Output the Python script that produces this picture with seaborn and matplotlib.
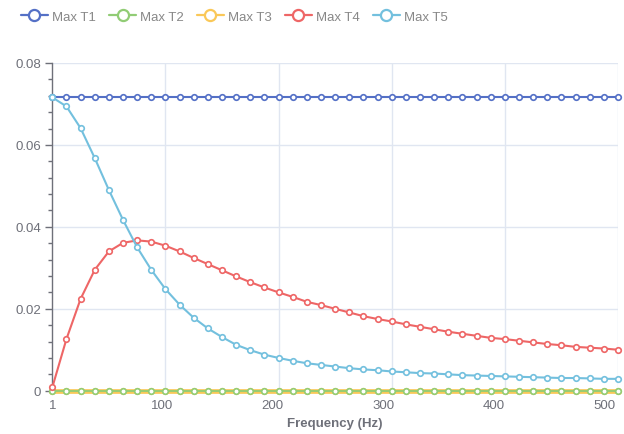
import numpy as np
import pandas as pd
import matplotlib
matplotlib.use("Agg")
import matplotlib.pyplot as plt
from matplotlib.ticker import FixedLocator, MultipleLocator
from matplotlib.lines import Line2D
import seaborn as sns

# ---- data ----
freqs = np.linspace(1, 512, 41)
series_names = ["Max T1", "Max T2", "Max T3", "Max T4", "Max T5"]
t1 = [0.0716] * 41
t2 = [0.0] * 41
t3 = [0.0] * 41
t4 = [0.0008, 0.0126, 0.0224, 0.0295, 0.0340, 0.0361, 0.0367, 0.0364, 0.0354, 0.0340,
      0.0324, 0.0309, 0.0294, 0.0279, 0.0265, 0.0252, 0.0240, 0.0229, 0.0217, 0.0209,
      0.0200, 0.0191, 0.0182, 0.0175, 0.0169, 0.0162, 0.0156, 0.0150, 0.0144, 0.0139,
      0.0134, 0.0129, 0.0126, 0.0122, 0.0118, 0.0114, 0.0111, 0.0107, 0.0105, 0.0103,
      0.0100]
t5 = [0.0716, 0.0694, 0.0641, 0.0568, 0.0490, 0.0417, 0.0350, 0.0295, 0.0248, 0.0210,
      0.0178, 0.0152, 0.0131, 0.0112, 0.0099, 0.0088, 0.0080, 0.0073, 0.0067, 0.0063,
      0.0059, 0.0055, 0.0052, 0.0050, 0.0047, 0.0045, 0.0043, 0.0042, 0.0040, 0.0038,
      0.0037, 0.0036, 0.0035, 0.0034, 0.0033, 0.0032, 0.0031, 0.0031, 0.0030, 0.0029,
      0.0029]
x_tick_values = [1, 100, 200, 300, 400, 500]
y_ticks = [0, 0.02, 0.04, 0.06, 0.08]
colors = ["#5470c6", "#91cc75", "#fac858", "#ee6666", "#73c0de"]

values = [t1, t2, t3, t4, t5]
df = pd.concat([pd.DataFrame({"freq": freqs, "value": v, "series": n})
                for n, v in zip(series_names, values)], ignore_index=True)

sns.set_theme(style="white")
plt.rcParams["font.family"] = ["Liberation Sans", "DejaVu Sans"]

fig = plt.figure(figsize=(6.24, 4.35), dpi=100)
ax = fig.add_axes([0.0838, 0.0995, 0.9904 - 0.0838, 0.8529 - 0.0995])

zorders = {"Max T1": 3, "Max T2": 4, "Max T3": 2.5, "Max T4": 5, "Max T5": 6}
lws = {"Max T1": 1.5, "Max T2": 1.3, "Max T3": 3.4, "Max T4": 1.5, "Max T5": 1.5}
for name, col in zip(series_names, colors):
    sub = df[df["series"] == name]
    sns.lineplot(data=sub, x="freq", y="value", ax=ax, color=col, lw=lws[name],
                 marker="o", markersize=4, markerfacecolor="white",
                 markeredgecolor=col, markeredgewidth=1.2,
                 zorder=zorders[name], legend=False, clip_on=False)

ax.set_xlim(freqs[0], freqs[-1])
ax.set_ylim(0, 0.08)

ax.xaxis.set_major_locator(FixedLocator(x_tick_values))
ax.set_xticklabels([str(v) for v in x_tick_values])
ax.xaxis.set_minor_locator(FixedLocator(list(freqs[8::8])))
ax.grid(False)
ax.grid(True, which="minor", axis="x", color="#e0e6f1", lw=1)
ax.set_yticks(y_ticks)
ax.set_yticklabels(["0", "0.02", "0.04", "0.06", "0.08"])
ax.yaxis.set_minor_locator(MultipleLocator(0.004))
ax.grid(True, which="major", axis="y", color="#e0e6f1", lw=1)
ax.set_axisbelow(True)

for s in ["top", "right", "bottom"]:
    ax.spines[s].set_visible(False)
ax.spines["left"].set_color("#6e7079")
ax.spines["left"].set_linewidth(1)

ax.tick_params(axis="y", which="major", length=5, width=1, color="#6e7079",
               labelcolor="#6e7079", labelsize=9.5, pad=3, left=True)
ax.tick_params(axis="y", which="minor", length=3, width=1, color="#6e7079", left=True)
ax.tick_params(axis="x", which="both", length=0, labelcolor="#6e7079",
               labelsize=9.5, pad=6)

ax.set_xlabel("Frequency (Hz)", fontsize=9.5, fontweight="bold", color="#6e7079",
              labelpad=4)
ax.set_ylabel("")

handles = [Line2D([], [], color=c, lw=1.6, marker="o", markersize=8,
                  markerfacecolor="white", markeredgecolor=c, markeredgewidth=1.6)
           for c in colors]
leg = fig.legend(handles, series_names, loc="upper left", bbox_to_anchor=(0.015, 1.0),
                 ncol=5, frameon=False, fontsize=9.5, handlelength=2.0,
                 handletextpad=0.35, columnspacing=1.0, labelcolor="#888888")

fig.savefig("out.png", dpi=100)
